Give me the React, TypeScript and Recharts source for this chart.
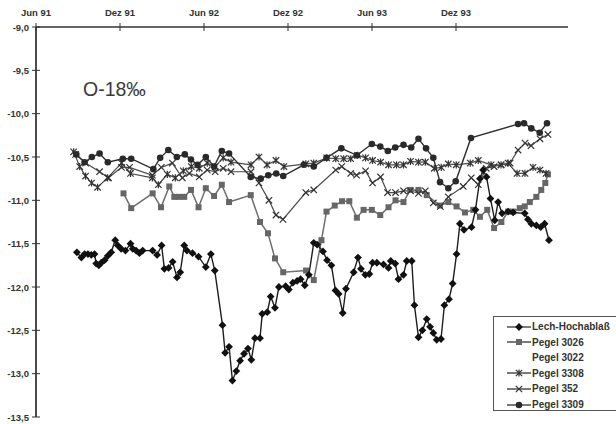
import { LineChart, Line, XAxis, YAxis } from "recharts";

type Pt = [number, number];

// x = months since Jun 91, y = O-18 in permil
const monthTicks = [0, 6, 12, 18, 24, 30];
const monthLabels = ["Jun 91", "Dez 91", "Jun 92", "Dez 92", "Jun 93", "Dez 93"];
const valueTicks = [-9, -9.5, -10, -10.5, -11, -11.5, -12, -12.5, -13, -13.5];
const seriesNames = ["Lech-Hochablaß", "Pegel 3026", "Pegel 3022", "Pegel 3308", "Pegel 352", "Pegel 3309"];

const lech: Pt[] = [
  [2.92, -11.6], [3.24, -11.66], [3.47, -11.62], [3.71, -11.62], [3.95, -11.63], [4.18, -11.62],
  [4.3, -11.73], [4.49, -11.75], [4.66, -11.72], [4.9, -11.69], [5.13, -11.64], [5.37, -11.6],
  [5.66, -11.46], [5.84, -11.52], [6.08, -11.56], [6.39, -11.58], [6.75, -11.5], [6.91, -11.56],
  [7.15, -11.58], [7.39, -11.61], [7.62, -11.58], [8.33, -11.58], [8.65, -11.63], [8.97, -11.52],
  [9.17, -11.79], [9.47, -11.78], [9.76, -11.71], [10.07, -11.89], [10.3, -11.83], [10.59, -11.52],
  [10.78, -11.58], [11.18, -11.61], [11.61, -11.65], [12.13, -11.77], [12.49, -11.62], [12.77, -11.81],
  [13.32, -12.44], [13.51, -12.76], [13.79, -12.69], [14.03, -13.08], [14.31, -12.97], [14.58, -12.85],
  [14.86, -12.77], [15.14, -12.71], [15.38, -12.84], [15.64, -12.59], [16.0, -12.59], [16.16, -12.31],
  [16.52, -12.29], [16.76, -12.11], [17.07, -12.24], [17.35, -12.0], [17.83, -11.99], [18.06, -12.03],
  [18.35, -11.95], [18.65, -11.93], [18.9, -11.91], [19.2, -11.98], [19.49, -11.86], [19.84, -11.49],
  [20.08, -11.51], [20.5, -11.59], [20.79, -11.69], [21.1, -11.75], [21.39, -12.04], [21.62, -12.08],
  [21.91, -12.3], [22.14, -12.02], [22.69, -11.83], [23.0, -11.66], [23.21, -11.79], [23.52, -11.86],
  [23.81, -11.85], [24.04, -11.72], [24.35, -11.72], [24.82, -11.74], [25.18, -11.78], [25.34, -11.7],
  [25.66, -11.73], [25.89, -11.91], [26.25, -11.86], [26.48, -11.7], [26.84, -11.7], [27.03, -12.21],
  [27.32, -12.58], [27.6, -12.5], [27.91, -12.37], [28.15, -12.46], [28.38, -12.53], [28.62, -12.61],
  [28.93, -12.6], [29.17, -12.21], [29.5, -12.14], [29.76, -11.96], [30.04, -11.62], [30.28, -11.27],
  [30.57, -11.34], [31.11, -11.31], [31.39, -11.11], [31.71, -10.75], [31.94, -10.65], [32.18, -10.73],
  [32.46, -10.98], [32.77, -11.23], [33.01, -11.02], [33.29, -11.15], [33.72, -11.13], [34.08, -11.14],
  [34.91, -11.15], [35.14, -11.22], [35.38, -11.27], [35.74, -11.29], [36.05, -11.31], [36.33, -11.27],
  [36.64, -11.46],
];

const pegel3026: Pt[] = [
  [6.25, -10.92], [6.8, -11.09], [8.33, -10.92], [8.93, -11.08], [9.52, -10.84], [9.88, -10.96],
  [10.23, -10.96], [10.59, -10.96], [11.07, -10.88], [11.61, -11.08], [12.13, -10.86], [12.72, -10.95],
  [13.27, -10.82], [13.79, -11.02], [15.34, -10.94], [16.0, -11.25], [16.57, -11.38], [17.07, -11.67],
  [17.66, -11.83], [19.29, -11.81], [19.84, -11.92], [20.39, -11.46], [20.75, -11.13], [21.34, -11.06],
  [21.86, -11.01], [22.38, -11.01], [22.92, -11.2], [23.4, -11.11], [23.99, -11.11], [24.59, -11.17],
  [25.18, -11.08], [25.68, -11.0], [26.25, -11.02], [26.73, -10.88], [27.32, -10.88], [27.91, -10.94],
  [28.86, -11.06], [29.45, -11.02], [30.04, -11.07], [30.64, -11.14], [31.23, -11.11], [31.71, -11.19],
  [32.23, -11.11], [32.72, -11.32], [33.24, -11.25], [33.72, -11.13], [34.08, -11.13], [34.55, -11.09],
  [34.91, -11.07], [35.27, -11.02], [35.74, -10.96], [36.09, -10.88], [36.38, -10.8], [36.57, -10.7],
];

const pegel3308: Pt[] = [
  [2.69, -10.44], [3.12, -10.61], [3.54, -10.72], [3.97, -10.8], [4.4, -10.85], [5.11, -10.74],
  [6.11, -10.57], [6.75, -10.69], [8.31, -10.74], [8.74, -10.82], [9.38, -10.7], [9.95, -10.74],
  [10.52, -10.66], [11.09, -10.61], [11.66, -10.63], [12.23, -10.57], [12.8, -10.61], [13.37, -10.51],
  [13.93, -10.56], [15.36, -10.59], [15.93, -10.5], [16.5, -10.59], [17.14, -10.54], [17.71, -10.61],
  [19.27, -10.58], [19.84, -10.57], [20.77, -10.51], [21.41, -10.52], [21.98, -10.52], [22.48, -10.52],
  [22.97, -10.48], [23.54, -10.51], [24.04, -10.54], [24.61, -10.56], [25.18, -10.59], [25.75, -10.59],
  [26.25, -10.59], [26.75, -10.55], [27.32, -10.56], [27.81, -10.56], [28.45, -10.63], [28.95, -10.62],
  [29.45, -10.58], [30.02, -10.59], [31.02, -10.57], [31.59, -10.54], [32.51, -10.59], [33.22, -10.59],
  [33.72, -10.57], [34.36, -10.69], [34.93, -10.69], [35.5, -10.62], [36.0, -10.65], [36.43, -10.69],
];

const pegel352: Pt[] = [
  [2.83, -10.47], [3.54, -10.57], [4.54, -10.67], [5.18, -10.74], [6.11, -10.62], [6.68, -10.62],
  [8.31, -10.71], [8.95, -10.62], [9.74, -10.57], [10.45, -10.74], [10.95, -10.69], [11.66, -10.73],
  [12.23, -10.65], [12.8, -10.67], [13.37, -10.63], [13.93, -10.67], [15.36, -10.67], [15.93, -10.8],
  [16.64, -11.0], [17.14, -11.17], [17.64, -11.22], [19.27, -10.91], [19.84, -10.88], [21.41, -10.65],
  [21.84, -10.61], [22.48, -10.69], [22.9, -10.71], [23.54, -10.66], [24.04, -10.8], [24.61, -10.73],
  [25.11, -10.91], [25.68, -10.91], [26.25, -10.89], [26.75, -10.89], [27.32, -10.92], [27.81, -10.89],
  [28.38, -11.03], [28.88, -11.07], [29.45, -10.96], [30.52, -10.84], [31.09, -10.74], [31.59, -10.82],
  [32.16, -10.63], [32.72, -10.61], [33.22, -10.59], [33.86, -10.57], [34.43, -10.42], [34.93, -10.34],
  [35.36, -10.37], [36.0, -10.29], [36.57, -10.24],
];

const pegel3309: Pt[] = [
  [2.88, -10.47], [3.47, -10.56], [3.99, -10.5], [4.54, -10.46], [5.13, -10.56], [6.2, -10.52],
  [6.8, -10.52], [8.38, -10.64], [8.87, -10.51], [9.45, -10.42], [10.06, -10.5], [10.63, -10.47],
  [11.07, -10.53], [11.54, -10.59], [12.13, -10.5], [12.72, -10.61], [13.27, -10.43], [13.79, -10.46],
  [15.34, -10.73], [16.05, -10.75], [16.59, -10.71], [17.16, -10.69], [17.66, -10.72], [19.13, -10.59],
  [19.84, -10.61], [20.75, -10.51], [21.81, -10.4], [22.92, -10.48], [23.99, -10.35], [24.59, -10.38],
  [25.13, -10.43], [25.66, -10.39], [26.25, -10.36], [26.8, -10.39], [27.32, -10.29], [27.86, -10.4],
  [28.38, -10.51], [28.86, -10.79], [29.45, -10.86], [29.98, -10.78], [31.07, -10.28], [34.43, -10.12],
  [34.86, -10.11], [35.38, -10.17], [35.98, -10.22], [36.5, -10.11],
];

const toRows = (pts: Pt[]) => pts.map(([m, v]) => ({ m, v }));

const FONT = '"Liberation Sans", Arial, sans-serif';

// marker shapes
const diamondShape = (cx: number, cy: number, k: string) => (
  <path key={k} d={`M${cx},${cy - 3.9}L${cx + 3.9},${cy}L${cx},${cy + 3.9}L${cx - 3.9},${cy}Z`} fill="#111" />
);
const squareShape = (cx: number, cy: number, k: string) => (
  <rect key={k} x={cx - 3} y={cy - 3} width={6} height={6} fill="#666" />
);
const xShape = (cx: number, cy: number, k: string) => (
  <path key={k} d={`M${cx - 3.2},${cy - 3.2}L${cx + 3.2},${cy + 3.2}M${cx - 3.2},${cy + 3.2}L${cx + 3.2},${cy - 3.2}`} stroke="#333" strokeWidth={1.2} />
);
const starShape = (cx: number, cy: number, k: string) => (
  <path key={k} d={`M${cx - 3.2},${cy - 3.2}L${cx + 3.2},${cy + 3.2}M${cx - 3.2},${cy + 3.2}L${cx + 3.2},${cy - 3.2}M${cx},${cy - 3.6}L${cx},${cy + 3.6}`} stroke="#333" strokeWidth={1.2} />
);
const circleShape = (cx: number, cy: number, k: string) => (
  <circle key={k} cx={cx} cy={cy} r={3.3} fill="#2a2a2a" />
);

const dotOf = (shape: (cx: number, cy: number, k: string) => JSX.Element, name: string) => (props: any) => {
  const { cx, cy, index } = props;
  if (cx == null || cy == null) return <g key={`${name}-${index}`} />;
  return shape(cx, cy, `${name}-${index}`);
};

const XTick = (props: any) => {
  const { x, payload } = props;
  const label = monthLabels[monthTicks.indexOf(payload.value)];
  return (
    <g>
      <line x1={x} x2={x} y1={23} y2={31} stroke="#333" strokeWidth={1} />
      <text x={x} y={16} textAnchor="middle" fontSize={9.5} fontWeight="bold" fill="#333" fontFamily={FONT}>
        {label}
      </text>
    </g>
  );
};

const YTick = (props: any) => {
  const { y, payload } = props;
  return (
    <g>
      <line x1={32} x2={40} y1={y} y2={y} stroke="#333" strokeWidth={1} />
      <text x={29} y={y + 3.5} textAnchor="end" fontSize={9.5} fontWeight="bold" fill="#333" fontFamily={FONT}>
        {payload.value.toFixed(1).replace(".", ",")}
      </text>
    </g>
  );
};

const legendShapes = [diamondShape, squareShape, null, starShape, xShape, circleShape];

export default function App() {
  return (
    <div style={{ position: "absolute", left: 0, top: 0, width: 616, height: 424, background: "#fff", fontFamily: FONT }}>
      <LineChart width={616} height={424} margin={{ top: 0, right: 48, bottom: 7, left: 0 }}>
        <XAxis
          type="number"
          dataKey="m"
          orientation="top"
          domain={[0, 38]}
          ticks={monthTicks}
          interval={0}
          height={27}
          tick={<XTick />}
          tickLine={false}
          axisLine={{ stroke: "#333", strokeWidth: 1.5 }}
        />
        <YAxis
          type="number"
          dataKey="v"
          domain={[-13.5, -9]}
          ticks={valueTicks}
          interval={0}
          width={36}
          tick={<YTick />}
          tickLine={false}
          axisLine={{ stroke: "#111", strokeWidth: 1.5 }}
        />
        <Line data={toRows(pegel3026)} dataKey="v" name={seriesNames[1]} stroke="#6e6e6e" strokeWidth={1.5} dot={dotOf(squareShape, "sq")} isAnimationActive={false} />
        <Line data={toRows(pegel352)} dataKey="v" name={seriesNames[4]} stroke="#4a4a4a" strokeWidth={1.2} dot={dotOf(xShape, "x")} isAnimationActive={false} />
        <Line data={toRows(pegel3308)} dataKey="v" name={seriesNames[3]} stroke="#4a4a4a" strokeWidth={1.2} dot={dotOf(starShape, "st")} isAnimationActive={false} />
        <Line data={toRows(pegel3309)} dataKey="v" name={seriesNames[5]} stroke="#2e2e2e" strokeWidth={1.4} dot={dotOf(circleShape, "c")} isAnimationActive={false} />
        <Line data={toRows(lech)} dataKey="v" name={seriesNames[0]} stroke="#1e1e1e" strokeWidth={1.4} dot={dotOf(diamondShape, "d")} isAnimationActive={false} />
      </LineChart>

      <div style={{ position: "absolute", left: 83, top: 78, fontSize: 19.5, color: "#3a3a3a", whiteSpace: "nowrap" }}>O-18‰</div>

      <div style={{ position: "absolute", left: 493, top: 316, width: 126, height: 95, border: "1px solid #555", boxSizing: "border-box" }}>
        {seriesNames.map((name, i) => {
          const shape = legendShapes[i];
          return (
            <div key={name} style={{ position: "absolute", left: 12, top: 2 + i * 15.6, height: 15, display: "flex", alignItems: "center" }}>
              <svg width={26} height={12} style={{ display: "block" }}>
                {shape && <line x1={1} x2={25} y1={6} y2={6} stroke="#333" strokeWidth={1.3} />}
                {shape && shape(13, 6, `lg-${i}`)}
              </svg>
              <span style={{ fontSize: 10, fontWeight: "bold", color: "#333", whiteSpace: "nowrap" }}>{name}</span>
            </div>
          );
        })}
      </div>
    </div>
  );
}
